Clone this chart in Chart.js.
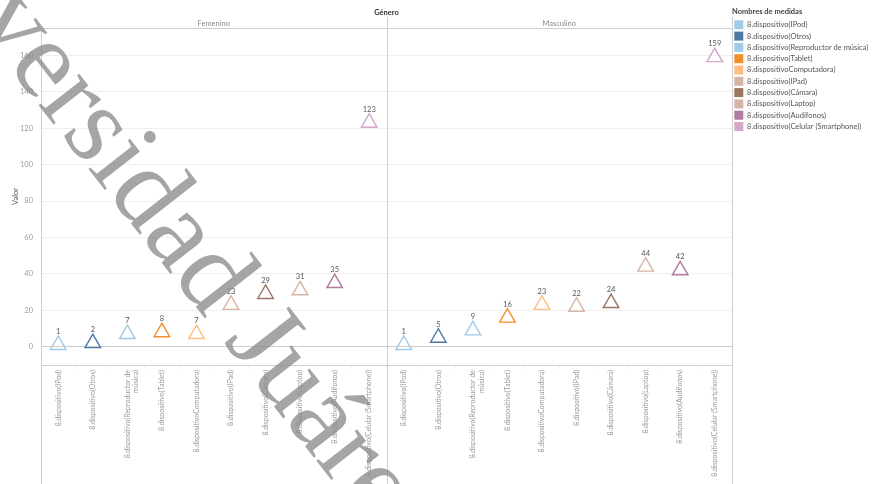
<!DOCTYPE html>
<html>
<head>
<meta charset="utf-8">
<script src="https://cdn.jsdelivr.net/npm/chart.js@4/dist/chart.umd.min.js"></script>
<style>
  html, body { margin: 0; padding: 0; background: #fff; }
  #wrap { width: 874px; height: 484px; }
</style>
</head>
<body>
<div id="wrap"><canvas id="chart" width="874" height="484"></canvas></div>
<script>
// data
const paneles = ['Femenino', 'Masculino'];
const medidas = [
  '8.dispositivo(IPod)',
  '8.dispositivo(Otros)',
  '8.dispositivo(Reproductor de música)',
  '8.dispositivo(Tablet)',
  '8.dispositivoComputadora)',
  '8.dispositivo(IPad)',
  '8.dispositivo(Cámara)',
  '8.dispositivo(Laptop)',
  '8.dispositivo(Audífonos)',
  '8.dispositivo(Celular (Smartphone))'
];
const etiquetasEje = [
  '8.dispositivo(IPod)',
  '8.dispositivo(Otros)',
  ['8.dispositivo(Reproductor de', 'música)'],
  '8.dispositivo(Tablet)',
  '8.dispositivoComputadora)',
  '8.dispositivo(IPad)',
  '8.dispositivo(Cámara)',
  '8.dispositivo(Laptop)',
  '8.dispositivo(Audífonos)',
  '8.dispositivo(Celular (Smartphone))'
];
const femenino = [1, 2, 7, 8, 7, 23, 29, 31, 35, 123];
const masculino = [1, 5, 9, 16, 23, 22, 24, 44, 42, 159];
const yTicks = [0, 20, 40, 60, 80, 100, 120, 140, 160];
const colores = ['#A0CBE8', '#4E79A7', '#A0CBE8', '#F28E2B', '#FFBE7D',
                 '#D7B5A6', '#9D7660', '#D7B5A6', '#B07AA1', '#D4A6C8'];

const FONT = 'Lato, "Open Sans", sans-serif';

// one series per measure: its Femenino slot and its Masculino slot
const datasets = medidas.map((m, i) => {
  const data = new Array(20).fill(null);
  data[i] = femenino[i];
  data[10 + i] = masculino[i];
  return {
    label: m,
    data: data,
    showLine: false,
    backgroundColor: colores[i],
    borderColor: colores[i],
    borderWidth: 0,
    pointStyle: 'triangle',
    pointRadius: 9,
    pointHoverRadius: 9,
    pointBorderWidth: 1.4,
    pointBorderColor: colores[i],
    pointBackgroundColor: 'rgba(255,255,255,0)'
  };
});

// value labels above each triangle
const valueLabels = {
  id: 'valueLabels',
  afterDatasetsDraw(chart) {
    const ctx = chart.ctx;
    ctx.save();
    ctx.font = '7.5px ' + FONT;
    ctx.fillStyle = '#555';
    ctx.textAlign = 'center';
    ctx.textBaseline = 'middle';
    chart.data.datasets.forEach((ds, i) => {
      chart.getDatasetMeta(i).data.forEach((pt, j) => {
        if (ds.data[j] == null) return;
        ctx.fillText(String(ds.data[j]), pt.x, pt.y - 13.5);
      });
    });
    ctx.restore();
  }
};

// pane borders running through header and label area
const paneLines = {
  id: 'paneLines',
  afterDraw(chart) {
    const a = chart.chartArea;
    const ctx = chart.ctx;
    ctx.save();
    ctx.strokeStyle = '#cfcfcf';
    ctx.lineWidth = 1;
    const mid = (a.left + a.right) / 2;
    [a.left, mid, a.right].forEach((x, k) => {
      const xx = Math.round(x) + 0.5;
      ctx.beginPath();
      ctx.moveTo(xx, k === 0 ? a.top : a.top - 11);
      ctx.lineTo(xx, chart.height);
      ctx.stroke();
    });
    ctx.restore();
  }
};

// diagonal watermark
const watermark = {
  id: 'watermark',
  afterDraw(chart) {
    const ctx = chart.ctx;
    ctx.save();
    ctx.font = '112px "Liberation Serif", "DejaVu Serif", serif';
    ctx.fillStyle = 'rgba(140,140,140,0.78)';
    const th = 52 * Math.PI / 180;
    const d = ctx.measureText('Univ').width + ctx.measureText('e').width / 2;
    ctx.translate(22, 84);
    ctx.rotate(th);
    ctx.textBaseline = 'alphabetic';
    ctx.fillText('Universidad Juárez del Estado de Durango', -d, 0);
    ctx.restore();
  }
};

new Chart(document.getElementById('chart'), {
  type: 'line',
  data: {
    labels: etiquetasEje.concat(etiquetasEje),
    datasets: datasets
  },
  options: {
    responsive: false,
    animation: false,
    events: [],
    layout: { padding: 0 },
    plugins: {
      tooltip: { enabled: false },
      legend: {
        position: 'right',
        align: 'start',
        fullSize: true,
        maxWidth: 142,
        title: {
          display: true,
          position: 'start',
          text: 'Nombres de medidas',
          color: '#444',
          font: { family: FONT, size: 7.5, weight: 'bold' },
          padding: { top: 8, bottom: 1 }
        },
        labels: {
          boxWidth: 9,
          boxHeight: 9,
          padding: 2.3,
          color: '#555',
          font: { family: FONT, size: 7.5 }
        }
      }
    },
    scales: {
      x: {
        type: 'category',
        position: 'bottom',
        offset: true,
        afterFit(s) { s.height = 119; },
        border: { display: true, color: '#cfcfcf' },
        grid: { offset: true, drawOnChartArea: false, tickLength: 4, color: '#eeeeee' },
        ticks: {
          autoSkip: false,
          maxRotation: 90,
          minRotation: 90,
          padding: 1,
          color: '#9a9a9a',
          font: { family: FONT, size: 7 }
        }
      },
      x2: {
        type: 'category',
        position: 'top',
        labels: paneles,
        offset: true,
        afterFit(s) { s.height = 28; },
        border: { display: true, color: '#cfcfcf' },
        grid: { offset: true, drawOnChartArea: false, drawTicks: false },
        ticks: { padding: 0, color: '#8a8a8a', font: { family: FONT, size: 7.5 } },
        title: {
          display: true,
          text: 'Género',
          color: '#333',
          font: { family: FONT, size: 7.5, weight: 'bold' },
          padding: { top: 8, bottom: 0 }
        }
      },
      y: {
        min: -10,
        max: 175,
        afterFit(s) { s.width = 41; },
        afterBuildTicks(s) { s.ticks = yTicks.map(v => ({ value: v })); },
        border: { display: true, color: '#cfcfcf' },
        grid: {
          drawTicks: false,
          color: ctx => (ctx.tick && ctx.tick.value === 0 ? '#cccccc' : '#efefef')
        },
        ticks: { padding: 8, color: '#9a9a9a', font: { family: FONT, size: 7.5 } },
        title: {
          display: true,
          text: 'Valor',
          color: '#555',
          font: { family: FONT, size: 7.5 },
          padding: { top: 11, bottom: 0 }
        }
      }
    }
  },
  plugins: [valueLabels, paneLines, watermark]
});
</script>
</body>
</html>
